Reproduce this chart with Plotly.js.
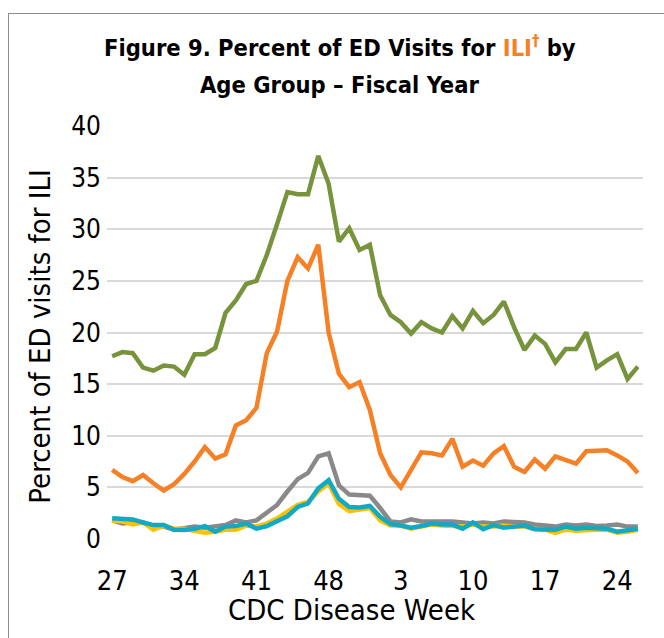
<!DOCTYPE html>
<html>
<head>
<meta charset="utf-8">
<script src="https://cdn.plot.ly/plotly-3.0.1.min.js"></script>
<style>
  html, body { margin:0; padding:0; background:#fff; overflow:hidden; }
  #wrap { position:relative; width:664px; height:638px; }
  #chart { position:absolute; left:0; top:0; width:664px; height:638px; }
  #frame { position:absolute; left:8px; top:13px; width:700px; height:700px;
           border:1.5px solid #8c8c8c; pointer-events:none; }
</style>
</head>
<body>
<div id="wrap">
  <div id="chart"></div>
  <div id="frame"></div>
</div>
<script>
// CDC disease weeks, fiscal year (week 27 through week 26)
const weeks = ['27','28','29','30','31','32','33','34','35','36','37','38','39','40','41','42','43','44','45','46','47','48','49','50','51','52',
               '1','2','3','4','5','6','7','8','9','10','11','12','13','14','15','16','17','18','19','20','21','22','23','24','25','26'];
const tickWeeks = ['27','34','41','48','3','10','17','24'];

// Percent of ED visits for ILI, by age group
const ageGroupA = [17.7,18.1,18.0,16.6,16.3,16.8,16.7,15.9,17.9,17.9,18.5,21.9,23.1,24.7,25.0,27.5,30.5,33.6,33.4,33.4,37.1,34.4,28.8,30.1,28.0,28.5,
                   23.6,21.7,21.0,19.9,21.0,20.4,20.0,21.6,20.4,22.1,20.9,21.7,23.0,20.5,18.3,19.7,18.9,17.1,18.4,18.4,20.0,16.6,17.3,17.9,15.5,16.7];
const ageGroupB = [6.7,6.0,5.6,6.2,5.4,4.7,5.3,6.3,7.5,8.9,7.8,8.2,11.0,11.5,12.7,18.0,20.1,25.0,27.3,26.2,28.5,20.0,16.0,14.7,15.2,12.5,
                   8.3,6.2,5.0,6.7,8.4,8.3,8.1,9.7,7.0,7.6,7.1,8.3,9.0,7.0,6.5,7.7,6.8,8.0,7.6,7.3,8.5,8.5,8.6,8.1,7.5,6.4];
const ageGroupC = [1.8,1.5,1.6,1.6,1.3,1.2,0.9,1.0,1.2,1.1,1.2,1.35,1.8,1.6,1.8,2.5,3.3,4.6,5.8,6.4,8.0,8.3,5.2,4.3,4.3,4.2,
                   3.0,1.7,1.6,1.9,1.7,1.7,1.8,1.7,1.6,1.5,1.6,1.5,1.7,1.7,1.6,1.4,1.3,1.2,1.4,1.3,1.4,1.25,1.3,1.4,1.2,1.2];
const ageGroupD = [1.8,1.7,1.4,1.6,0.9,1.3,1.0,1.0,0.8,0.6,0.7,0.9,0.9,1.3,1.2,1.5,2.0,2.6,3.3,3.6,4.6,5.4,3.4,2.7,2.8,3.0,
                   1.8,1.3,1.3,1.0,1.2,1.4,1.3,1.3,1.2,1.4,1.2,1.2,1.3,1.2,1.2,1.0,0.9,0.6,0.9,0.8,0.9,0.9,0.9,0.6,0.7,0.9];
const ageGroupE = [2.0,1.9,1.9,1.6,1.35,1.35,0.9,0.87,1.0,1.25,0.7,1.2,1.25,1.5,1.0,1.25,1.7,2.2,3.1,3.45,4.9,5.7,3.9,3.1,3.05,3.2,
                   2.15,1.45,1.3,1.1,1.25,1.5,1.4,1.4,1.0,1.6,0.95,1.35,1.1,1.2,1.3,0.95,0.9,0.9,1.2,1.0,1.1,1.0,1.0,0.7,0.85,1.0];

const seriesNames  = ['Age group A','Age group B','Age group C','Age group D','Age group E'];
const seriesValues = [ageGroupA, ageGroupB, ageGroupC, ageGroupD, ageGroupE];
const seriesColors = ['#77933C','#F58025','#898989','#FFC000','#12A9C4'];

const titleLine1 = 'Figure 9. Percent of ED Visits for <span style="color:#F58025">ILI<sup>†</sup></span> by';
const titleLine2 = 'Age Group – Fiscal Year';
const xTitle = 'CDC Disease Week';
const yTitle = 'Percent of ED visits for ILI';

const FONT = '"DejaVu Sans Condensed", "Liberation Sans", sans-serif';

const traces = seriesValues.map((vals, k) => ({
  type: 'scatter',
  mode: 'lines',
  name: seriesNames[k],
  x: weeks,
  y: vals,
  line: { color: seriesColors[k], width: 4.5, shape: 'linear' },
  hoverinfo: 'x+y+name'
}));

const layout = {
  width: 664,
  height: 638,
  margin: { l: 107, r: 21, t: 126, b: 99 },
  paper_bgcolor: '#ffffff',
  plot_bgcolor: '#ffffff',
  showlegend: false,
  font: { family: FONT, color: '#000000' },
  xaxis: {
    type: 'category',
    range: [-0.5, 51.5],
    tickmode: 'array',
    tickvals: tickWeeks,
    ticktext: tickWeeks,
    showgrid: false,
    zeroline: false,
    showline: false,
    ticks: '',
    ticklabelstandoff: 23,
    tickfont: { family: FONT, size: 27, color: '#000000' },
    fixedrange: true
  },
  yaxis: {
    range: [0, 40],
    tickmode: 'array',
    tickvals: [0,5,10,15,20,25,30,35,40],
    showgrid: true,
    gridcolor: '#d9d9d9',
    gridwidth: 1.5,
    zeroline: false,
    showline: false,
    ticks: '',
    ticklabelstandoff: 5,
    tickfont: { family: FONT, size: 26, color: '#000000' },
    fixedrange: true
  },
  annotations: [
    { text: titleLine1, xref: 'paper', yref: 'paper', x: 0.4347, y: 1.192, xanchor: 'center', yanchor: 'middle',
      showarrow: false, font: { family: FONT, size: 23.5, color: '#000000', weight: 'bold' } },
    { text: titleLine2, xref: 'paper', yref: 'paper', x: 0.4347, y: 1.099, xanchor: 'center', yanchor: 'middle',
      showarrow: false, font: { family: FONT, size: 23.5, color: '#000000', weight: 'bold' } },
    { text: xTitle, xref: 'paper', yref: 'paper', x: 0.457, y: -0.172, xanchor: 'center', yanchor: 'middle',
      showarrow: false, font: { family: FONT, size: 29, color: '#000000' } },
    { text: yTitle, xref: 'paper', yref: 'paper', x: -0.125, y: 0.49, xanchor: 'center', yanchor: 'middle',
      textangle: -90, showarrow: false, font: { family: FONT, size: 29, color: '#000000' } }
  ]
};

Plotly.newPlot('chart', traces, layout, { displayModeBar: false });
</script>
</body>
</html>
